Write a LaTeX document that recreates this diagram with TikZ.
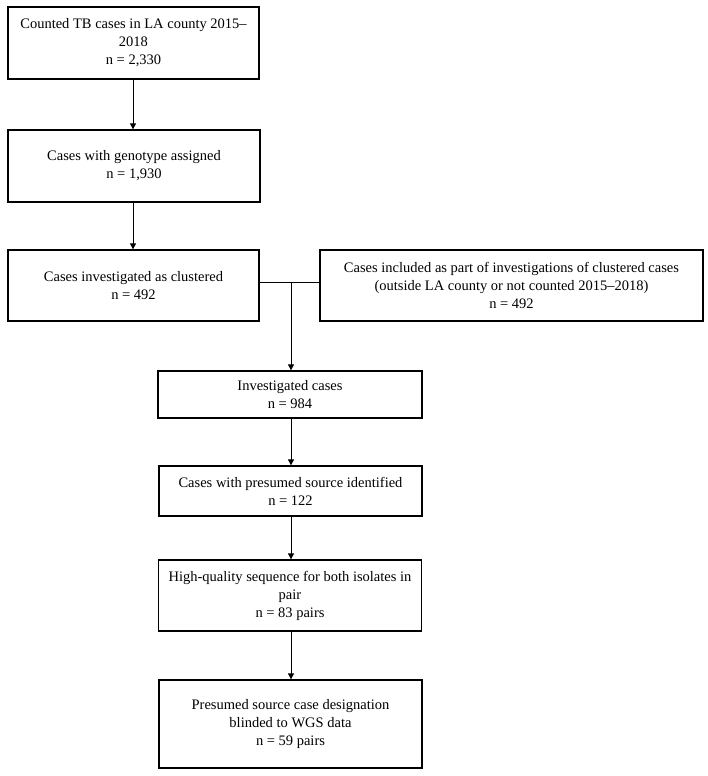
\documentclass[tikz,border=0pt]{standalone}
\usepackage{fontspec}
\setmainfont{Liberation Serif}
\usetikzlibrary{arrows.meta}
\begin{document}
\begin{tikzpicture}[x=1bp,y=-1bp,
  box/.style={draw,line width=1.3bp,align=center,inner sep=0pt,font=\fontsize{14.5bp}{18bp}\selectfont,
    execute at begin node={\rule{0pt}{20bp}}},
  arr/.style={line width=0.9bp,-{Triangle[length=6bp,width=6bp]}},
  ln/.style={line width=0.9bp}]
\useasboundingbox (0,0) rectangle (708,776);
\node[box,minimum width=251bp,minimum height=72bp] (b1) at (133.5,43) {Counted TB cases in LA county 2015–\\2018\\n = 2,330};
\node[box,minimum width=252bp,minimum height=72bp] (b2) at (134,166) {Cases with genotype assigned\\n = 1,930};
\node[box,minimum width=251bp,minimum height=71bp] (b3) at (133.5,285.5) {Cases investigated as clustered\\n = 492};
\node[box,minimum width=383bp,minimum height=71bp] (br) at (511.5,285.5) {Cases included as part of investigations of clustered cases\\(outside LA county or not counted 2015–2018)\\n = 492};
\node[box,minimum width=264bp,minimum height=47bp] (b4) at (290,394.5) {Investigated cases\\n = 984};
\node[box,minimum width=263bp,minimum height=50bp] (b5) at (290.5,491) {Cases with presumed source identified\\n = 122};
\node[box,minimum width=263bp,minimum height=71bp] (b6) at (290,595.5) {High-quality sequence for both isolates in\\pair\\n = 83 pairs};
\node[box,minimum width=263bp,minimum height=88bp] (b7) at (290.5,724) {Presumed source case designation\\blinded to WGS data\\n = 59 pairs};
\coordinate (j) at (291,282);
\draw[arr] (b1.south -| 133,0) -- (b2.north -| 133,0);
\draw[arr] (b2.south -| 133,0) -- (b3.north -| 133,0);
\draw[ln] (b3.east |- j) -- (br.west |- j);
\draw[arr] (j) -- (b4.north -| j);
\draw[arr] (b4.south -| j) -- (b5.north -| j);
\draw[arr] (b5.south -| j) -- (b6.north -| j);
\draw[arr] (b6.south -| j) -- (b7.north -| j);
\end{tikzpicture}
\end{document}
